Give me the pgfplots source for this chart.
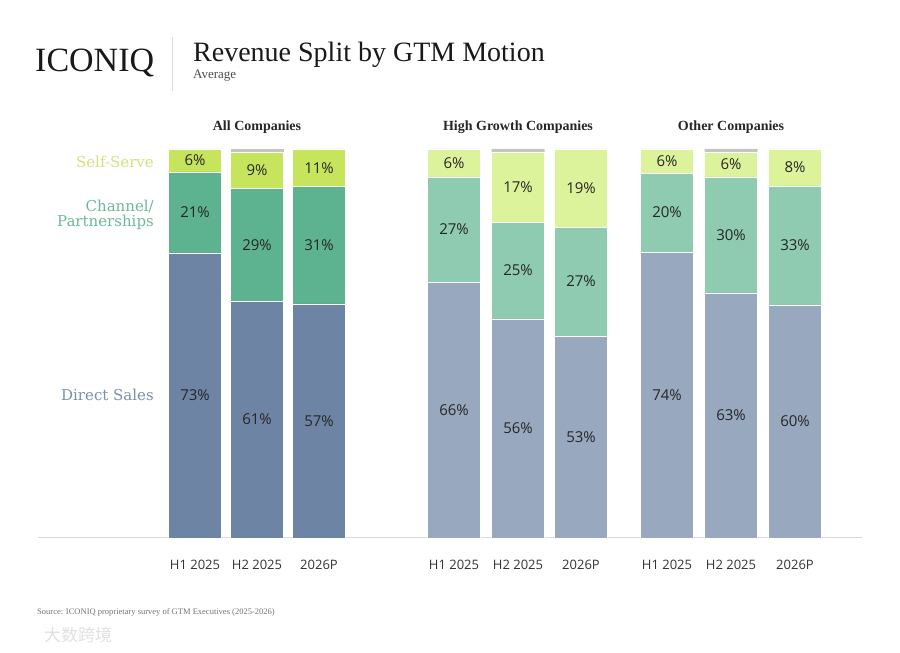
\documentclass[border=0pt]{standalone}
\usepackage{pgfplots}
\pgfplotsset{compat=1.18}
\usepackage{pgfplotstable}
\usepackage{fontspec}
\setmainfont{Liberation Serif}
\newfontfamily\osans{Open Sans}
\newfontfamily\dserif{DejaVu Serif}
\newfontfamily\cjk{Noto Sans CJK SC}
\definecolor{cDir}{HTML}{6E84A4}
\definecolor{cCh}{HTML}{5DB38F}
\definecolor{cSS}{HTML}{C6E55D}
\definecolor{lDir}{HTML}{97A8BF}
\definecolor{lCh}{HTML}{8ECBB0}
\definecolor{lSS}{HTML}{DCF29B}
\definecolor{cGr}{HTML}{C4C4C4}
\definecolor{tSS}{HTML}{CDE47A}
\definecolor{tCh}{HTML}{6DB896}
\definecolor{tDir}{HTML}{7A8FB0}

\pgfplotstableread{
x d c s g ld lc ls
195 73.3 20.8 5.9 0.0 73 21 6
257 60.9 29.0 9.3 0.8 61 29 9
319 60.2 30.1 9.7 0.0 57 31 11
}\allco
\pgfplotstableread{
x d c s g ld lc ls
454 65.8 27.0 7.2 0.0 66 27 6
518 56.3 24.9 18.0 0.8 56 25 17
581 51.9 28.0 20.1 0.0 53 27 19
667 73.5 20.3 6.2 0.0 74 20 6
731 63.0 29.8 6.4 0.8 63 30 6
795 59.9 30.6 9.5 0.0 60 33 8
}\otherco

\pgfplotsset{
  base/.style={
    scale only axis, width=824bp, height=389bp,
    xmin=37.5, xmax=861.5, ymin=0, ymax=100,
    at={(37.5bp,115bp)}, anchor=south west,
    ybar stacked, bar width=53,
    clip=false,
  },
  lab/.style={
    point meta=explicit symbolic,
    nodes near coords={\pgfplotspointmeta\%},
    every node near coord/.append style={font=\osans\fontsize{15bp}{18bp}\selectfont,
      text=black!85, anchor=center},
  },
  segbar/.style={draw=white, line width=0.6bp, fill=#1},
}

\begin{document}
\begin{tikzpicture}[x=1bp,y=1bp]
\useasboundingbox (0,0) rectangle (900,653);

% header
\node[anchor=base west, inner sep=0, font=\fontsize{34bp}{36bp}\selectfont, text=black!90] at (35,581) {ICONIQ};
\draw[black!15, line width=0.8bp] (172,616) -- (172,562);
\node[anchor=base west, inner sep=0, font=\fontsize{28bp}{30bp}\selectfont, text=black!90] at (193,591) {Revenue Split by GTM Motion};
\node[anchor=base west, inner sep=0, font=\fontsize{13bp}{15bp}\selectfont, text=black!70] at (193,574) {Average};

% group titles
\node[anchor=base, inner sep=0, font=\bfseries\fontsize{14bp}{16bp}\selectfont, text=black!85] at (257,522) {All Companies};
\node[anchor=base, inner sep=0, font=\bfseries\fontsize{14bp}{16bp}\selectfont, text=black!85] at (518,522) {High Growth Companies};
\node[anchor=base, inner sep=0, font=\bfseries\fontsize{14bp}{16bp}\selectfont, text=black!85] at (731,522) {Other Companies};

% series labels
\node[anchor=east, inner sep=0, font=\dserif\fontsize{15bp}{17bp}\selectfont, text=tSS] at (154,491) {Self-Serve};
\node[anchor=east, inner sep=0, align=right, font=\dserif\fontsize{15bp}{15.5bp}\selectfont, text=tCh] at (154,438) {Channel/\\Partnerships};
\node[anchor=east, inner sep=0, font=\dserif\fontsize{15bp}{17bp}\selectfont, text=tDir] at (154,258) {Direct Sales};

% source and watermark
\node[anchor=base west, inner sep=0, font=\fontsize{8.5bp}{10bp}\selectfont, text=black!55] at (37,38) {Source: ICONIQ proprietary survey of GTM Executives (2025-2026)};
\node[anchor=west, inner sep=0, font=\cjk\fontsize{17bp}{19bp}\selectfont, text=black!12] at (44,18) {大数跨境};

\begin{axis}[base,
  hide y axis, axis x line*=bottom,
  x axis line style={-, draw=black!15, line width=1bp},
  xtick={195,257,319,454,518,581,667,731,795},
  xticklabels={H1 2025,H2 2025,2026P,H1 2025,H2 2025,2026P,H1 2025,H2 2025,2026P},
  major tick length=0,
  xticklabel style={font=\osans\fontsize{13bp}{15bp}\selectfont, text=black!80, anchor=base, yshift=-32bp},
]
\addplot[segbar=cDir, lab] table[x=x, y=d, meta=ld] {\allco};
\addplot[segbar=cCh, lab] table[x=x, y=c, meta=lc] {\allco};
\addplot[segbar=cSS, lab] table[x=x, y=s, meta=ls] {\allco};
\addplot[segbar=cGr, draw=none] table[x=x, y=g] {\allco};
\end{axis}

\begin{axis}[base, axis lines=none, xtick=\empty, ytick=\empty]
\addplot[segbar=lDir, lab] table[x=x, y=d, meta=ld] {\otherco};
\addplot[segbar=lCh, lab] table[x=x, y=c, meta=lc] {\otherco};
\addplot[segbar=lSS, lab] table[x=x, y=s, meta=ls] {\otherco};
\addplot[segbar=cGr, draw=none] table[x=x, y=g] {\otherco};
\end{axis}
\end{tikzpicture}
\end{document}
